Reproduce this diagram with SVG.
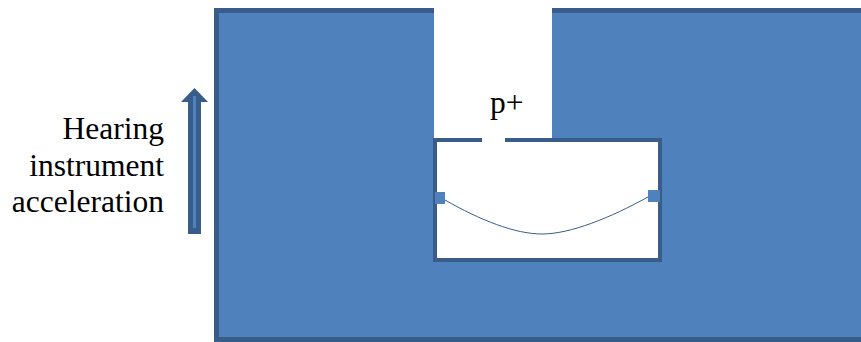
<svg xmlns="http://www.w3.org/2000/svg" width="861" height="342" viewBox="0 0 861 342">
<style>
.t{font-family:"Liberation Serif","Times New Roman",serif;font-size:31.500px;fill:#000}
.b{fill:#4f81bd}
.d{fill:#385d8a}
</style>
<rect width="861" height="342" fill="#fff"/>
<g id="housing">
<rect class="d" x="214" y="8" width="647" height="334"/>
<rect class="b" x="219" y="13" width="642" height="324"/>
<rect x="434" y="0" width="118" height="140" fill="#fff"/>
</g>
<g id="chamber">
<rect x="435" y="140" width="225" height="120" fill="#fff" stroke="#385d8a" stroke-width="4"/>
<rect x="482" y="136" width="23" height="8" fill="#fff"/>
</g>
<g id="membrane">
<path d="M445 200C480 220 515 234 542 234C570 234 610 218 648 197" fill="none" stroke="#385d8a" stroke-width="1"/>
<rect class="b" x="435" y="192" width="10" height="12"/>
<rect class="b" x="648" y="190" width="12" height="12"/>
</g>
<g id="arrow">
<path class="d" d="M194.500 88L208 102H201V234H188V102H181Z"/>
<rect class="b" x="193" y="96" width="3" height="132"/>
</g>
<g id="labels">
<text class="t" x="164" y="139" text-anchor="end">Hearing</text>
<text class="t" x="164" y="176" text-anchor="end">instrument</text>
<text class="t" x="164" y="212" text-anchor="end">acceleration</text>
<text class="t" x="490" y="113">p+</text>
</g>
</svg>
